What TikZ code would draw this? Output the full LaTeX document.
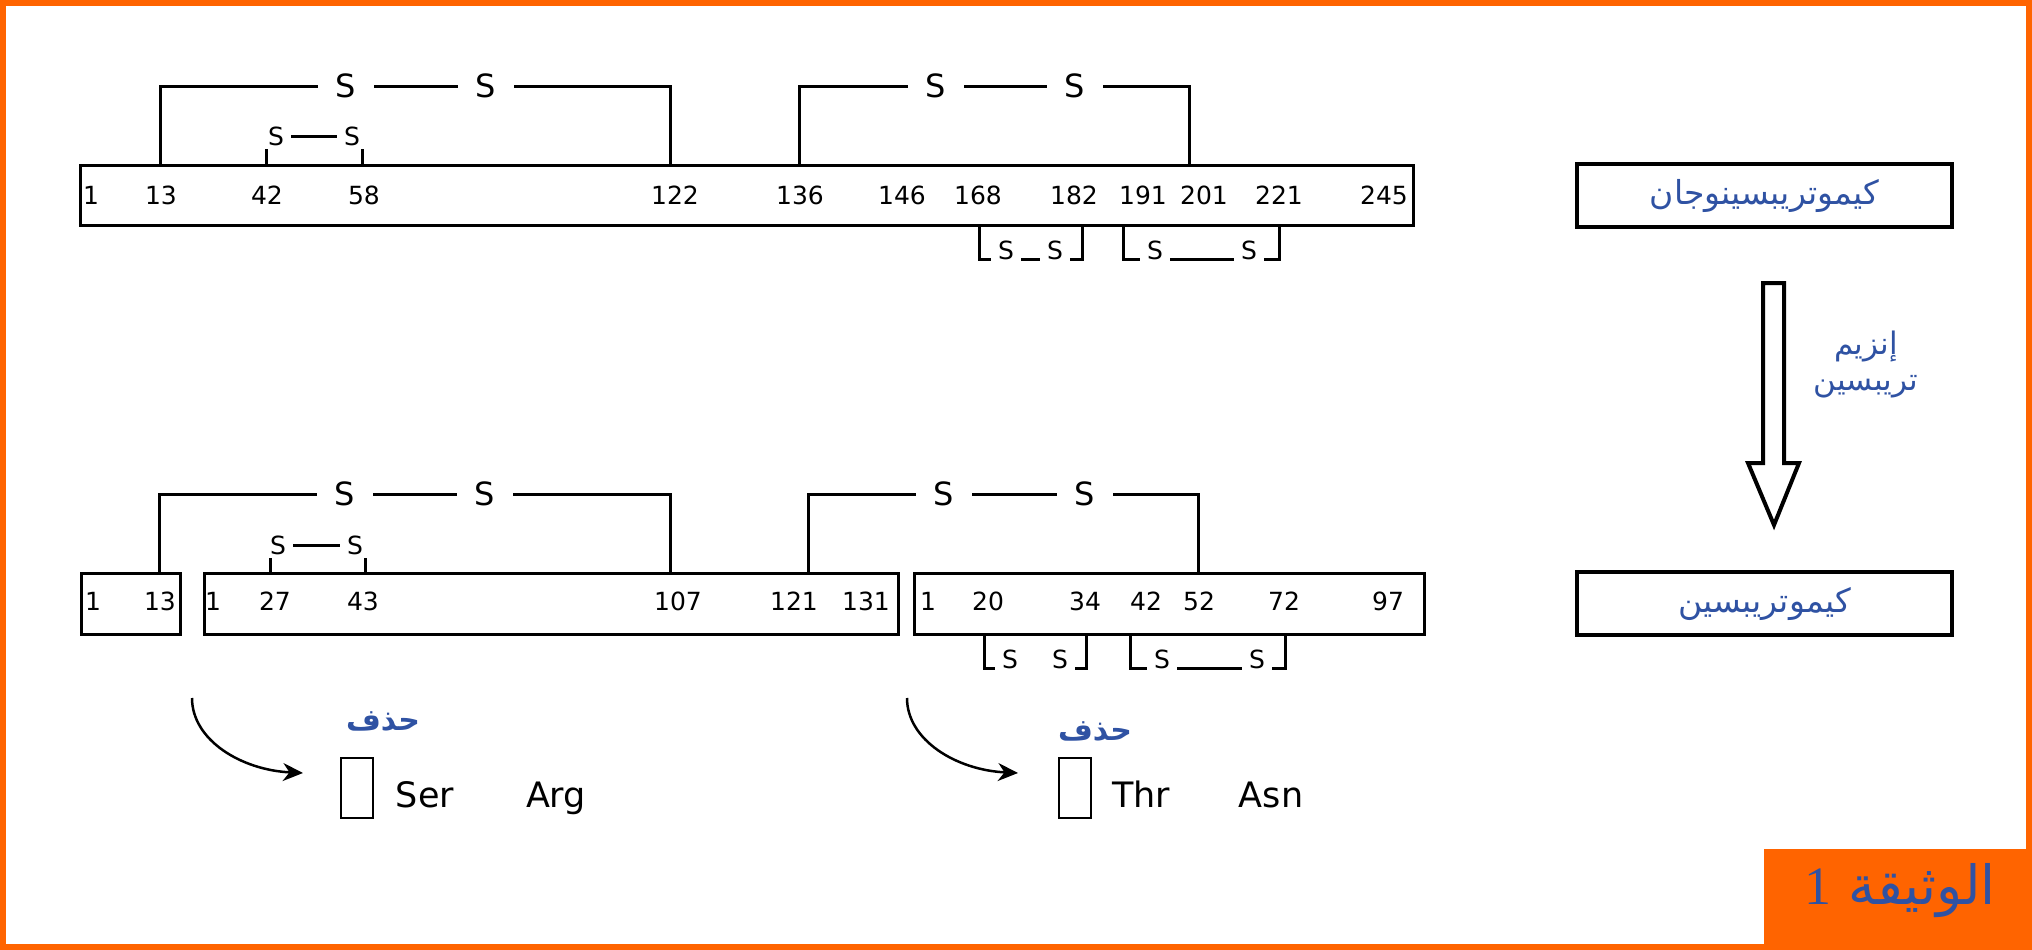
\documentclass[tikz,border=0pt]{standalone}
\usepackage{fontspec}
\usepackage{xcolor}
\usepackage{tikz}
\usetikzlibrary{positioning,arrows.meta,calc}
\setmainfont{DejaVu Sans}
\newfontfamily\arabicfont[Script=Arabic]{DejaVu Sans}
\newfontfamily\seriffont{Liberation Serif}
\TeXXeTstate=1
\definecolor{tblue}{HTML}{2F52A3}
\definecolor{torange}{HTML}{FF6400}
\newcommand{\artext}[1]{{\arabicfont\beginR #1\endR}}

\begin{document}
\begin{tikzpicture}[x=1pt, y=-1pt,
  prot/.style={draw, line width=3pt, inner sep=0pt, outer sep=0pt, anchor=north west, minimum height=60pt},
  num/.style={font=\fontsize{25}{30}\selectfont, inner sep=0pt},
  bigs/.style={font=\fontsize{32}{38}\selectfont, inner xsep=18pt, inner ysep=0pt},
  smls/.style={font=\fontsize{25}{30}\selectfont, inner xsep=7pt, inner ysep=3pt},
  bond/.style={line width=3pt},
  pname/.style={draw, line width=3.5pt, minimum width=375pt, minimum height=63pt, inner sep=0pt, outer sep=0pt, anchor=north west, text=tblue, font=\fontsize{33}{38}\selectfont},
  aa/.style={font=\fontsize{35}{40}\selectfont, anchor=base, inner sep=0pt},
  gap/.style={draw, line width=2.5pt, minimum width=32pt, minimum height=60pt, inner sep=0pt, outer sep=0pt, anchor=north west},
  cut/.style={text=tblue, font=\fontsize{30}{34}\bfseries},
  curv/.style={line width=2.5pt, -{Stealth[length=20pt, width=18pt]}}]
\useasboundingbox (0,0) rectangle (2032,950);

% --- frame and document tag ---
\draw[torange, line width=6pt] (3,3) rectangle (2029,947);
\fill[torange] (1764,849) rectangle (2032,950);
\node[text=tblue, font=\fontsize{54}{60}\selectfont] (tag) at (1900,891)
  {\artext{الوثيقة {\seriffont 1}}};

% --- chymotrypsinogen: one chain 1..245 ---
\node[prot, minimum width=1333pt] (pro) at (80,165) {};
\node[num] (p1) at (91,195) {1}; \node[num] (p13) at (161,195) {13};
\node[num] (p42) at (267,195) {42}; \node[num] (p58) at (364,195) {58};
\node[num] (p122) at (675,195) {122}; \node[num] (p136) at (800,195) {136};
\node[num] (p146) at (902,195) {146}; \node[num] (p168) at (978,195) {168};
\node[num] (p182) at (1074,195) {182}; \node[num] (p191) at (1143,195) {191};
\node[num] (p201) at (1204,195) {201}; \node[num] (p221) at (1279,195) {221};
\node[num] (p245) at (1384,195) {245};

% bridge anchors on the chain
\coordinate (j13) at (160,165); \coordinate (j122) at (670,165);
\coordinate (j136) at (799,165); \coordinate (j201) at (1189,165);
\coordinate (j42) at (266,165); \coordinate (j58) at (362,165);
\coordinate (j168) at (979,225); \coordinate (j182) at (1082,225);
\coordinate (j191) at (1123,225); \coordinate (j221) at (1279,225);

% disulfide bridges above
\node[bigs] (sA) at (346,86) {S}; \node[bigs] (sB) at (486,86) {S};
\node[bigs] (sC) at (936,86) {S}; \node[bigs] (sD) at (1075,86) {S};
\draw[bond] (j13) |- (sA.west); \draw[bond] (sA) -- (sB); \draw[bond] (sB.east) -| (j122);
\draw[bond] (j136) |- (sC.west); \draw[bond] (sC) -- (sD); \draw[bond] (sD.east) -| (j201);
\node[smls] (sE) at (276,136) {S}; \node[smls] (sF) at (352,136) {S};
\draw[bond] (sE) -- (sF);
\draw[bond] (j42) -- (j42 |- sE.south); \draw[bond] (j58) -- (j58 |- sF.south);

% disulfide bridges below
\node[smls] (sG) at (1006,250) {S}; \node[smls] (sH) at (1055,250) {S};
\node[smls] (sI) at (1155,250) {S}; \node[smls] (sJ) at (1249,250) {S};
\draw[bond] (j168) |- (sG.base west); \draw[bond] (sG.base east) -- (sH.base west);
\draw[bond] (sH.base east) -| (j182);
\draw[bond] (j191) |- (sI.base west); \draw[bond] (sI.base east) -- (sJ.base west);
\draw[bond] (sJ.base east) -| (j221);

% --- names and the trypsin step ---
\node[pname] (zym) at (1577,164) {\artext{كيموتريبسينوجان}};
\node[pname] (chy) at (1577,572) {\artext{كيموتريبسين}};
\draw[line width=4pt, fill=white] (1763,283) -- (1784,283) -- (1784,463) -- (1799,463)
  -- (1774,525) -- (1748,463) -- (1763,463) -- cycle;
\node[text=tblue, font=\fontsize{31}{36}\selectfont, align=center] (enz) at (1866,365)
  {\artext{إنزيم}\\\artext{تريبسين}};

% --- chymotrypsin: three chains ---
\node[prot, minimum width=99pt, minimum height=61pt] (ca) at (81,573) {};
\node[prot, minimum width=694pt, minimum height=61pt] (cb) at (204,573) {};
\node[prot, minimum width=510pt, minimum height=61pt] (cc) at (914,573) {};
\node[num] (a1) at (93,601) {1}; \node[num] (a13) at (160,601) {13};
\node[num] (b1) at (213,601) {1}; \node[num] (b27) at (275,601) {27};
\node[num] (b43) at (363,601) {43}; \node[num] (b107) at (678,601) {107};
\node[num] (b121) at (794,601) {121}; \node[num] (b131) at (866,601) {131};
\node[num] (c1) at (928,601) {1}; \node[num] (c20) at (988,601) {20};
\node[num] (c34) at (1085,601) {34}; \node[num] (c42) at (1146,601) {42};
\node[num] (c52) at (1199,601) {52}; \node[num] (c72) at (1284,601) {72};
\node[num] (c97) at (1388,601) {97};

\coordinate (h13) at (159,573); \coordinate (h107) at (670,573);
\coordinate (h121) at (808,573); \coordinate (h52) at (1198,573);
\coordinate (h27) at (270,573); \coordinate (h43) at (365,573);
\coordinate (h20) at (984,634); \coordinate (h34) at (1086,634);
\coordinate (h42) at (1130,634); \coordinate (h72) at (1285,634);

\node[bigs] (tA) at (345,494) {S}; \node[bigs] (tB) at (485,494) {S};
\node[bigs] (tC) at (944,494) {S}; \node[bigs] (tD) at (1085,494) {S};
\draw[bond] (h13) |- (tA.west); \draw[bond] (tA) -- (tB); \draw[bond] (tB.east) -| (h107);
\draw[bond] (h121) |- (tC.west); \draw[bond] (tC) -- (tD); \draw[bond] (tD.east) -| (h52);
\node[smls] (tE) at (278,545) {S}; \node[smls] (tF) at (355,545) {S};
\draw[bond] (tE) -- (tF);
\draw[bond] (h27) -- (h27 |- tE.south); \draw[bond] (h43) -- (h43 |- tF.south);

\node[smls] (tG) at (1010,659) {S}; \node[smls] (tH) at (1060,659) {S};
\node[smls] (tI) at (1162,659) {S}; \node[smls] (tJ) at (1257,659) {S};
\draw[bond] (h20) |- (tG.base west); \draw[bond] (tH.base east) -| (h34);
\draw[bond] (h42) |- (tI.base west); \draw[bond] (tI.base east) -- (tJ.base west);
\draw[bond] (tJ.base east) -| (h72);

% --- removed dipeptides ---
\coordinate (cs1) at (192,698); \coordinate (ce1) at (303,773);
\coordinate (cs2) at (907,698); \coordinate (ce2) at (1018,773);
\draw[curv] (cs1) .. controls +(0,42) and +(-62,-3) .. (ce1);
\draw[curv] (cs2) .. controls +(0,42) and +(-62,-3) .. (ce2);
\node[cut] (del1) at (383,721) {\artext{حذف}};
\node[cut] (del2) at (1095,731) {\artext{حذف}};
\node[gap] (g1) at (341,758) {}; \node[gap] (g2) at (1059,758) {};
\node[aa] (ser) at (425,807) {Ser}; \node[aa] (arg) at (556,807) {Arg};
\node[aa] (thr) at (1141,807) {Thr}; \node[aa] (asn) at (1271,807) {Asn};
\end{tikzpicture}
\end{document}
